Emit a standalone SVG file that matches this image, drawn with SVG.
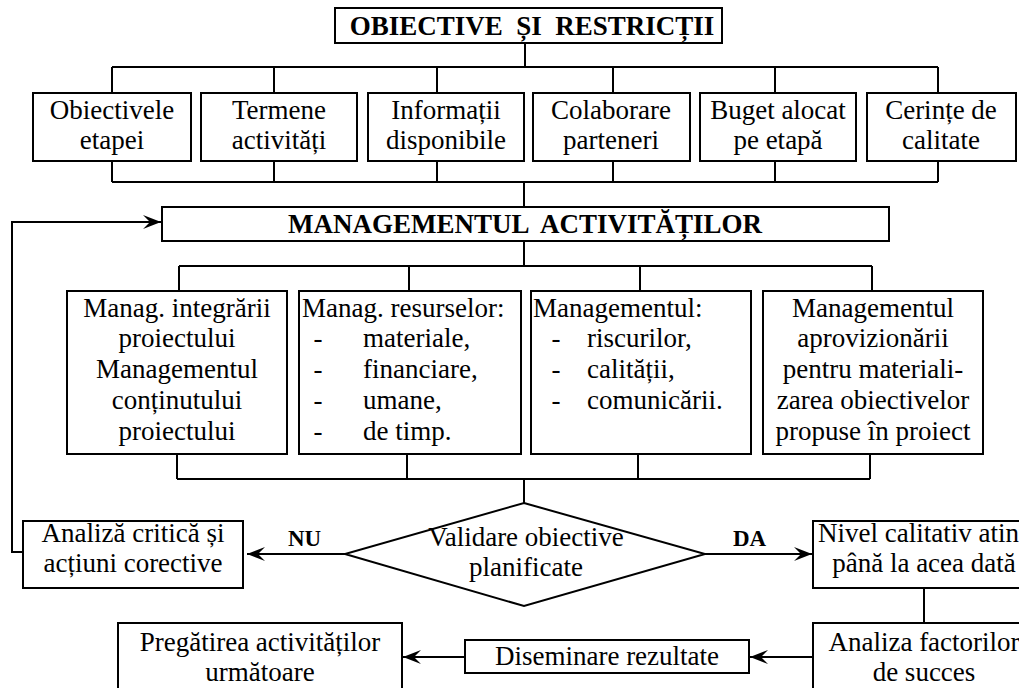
<svg xmlns="http://www.w3.org/2000/svg" width="1019" height="688" viewBox="0 0 1019 688">
  <style>
    .box { fill: #fff; stroke: #000; stroke-width: 2; }
    .wire { fill: none; stroke: #000; stroke-width: 2; }
    text { font-family: "Liberation Serif", "Times New Roman", serif; font-size: 27px; fill: #000; }
    .c { text-anchor: middle; }
    .b { font-weight: bold; }
    .lbl { font-size: 23px; font-weight: bold; }
  </style>
  <defs>
    <marker id="arrow" markerUnits="userSpaceOnUse" markerWidth="20" markerHeight="16" viewBox="-19 -8 20 16" refX="0" refY="0" orient="auto">
      <path d="M0,0 L-18,-7 L-11,0 L-18,7 Z" fill="#000"/>
    </marker>
  </defs>
  <rect width="1019" height="688" fill="#fff"/>

  <!-- connectors -->
  <g id="connectors" class="wire">
    <!-- header to constraint row -->
    <path d="M525,43 V67 M112,67 H938 M112,67 V93 M274,67 V93 M437,67 V93 M613,67 V93 M775,67 V93 M938,67 V93"/>
    <!-- constraint row to activity management -->
    <path d="M112,161 V182 M274,161 V182 M437,161 V182 M613,161 V182 M775,161 V182 M938,161 V182 M112,182 H938 M524,182 V207"/>
    <!-- activity management to the four areas -->
    <path d="M524,241 V266 M179,266 H872 M179,266 V291 M409,266 V291 M640,266 V291 M872,266 V291"/>
    <!-- four areas to validation -->
    <path d="M177,454 V479 M407,454 V479 M638,454 V479 M870,454 V479 M177,479 H870 M524,479 V503"/>
    <!-- decision branches -->
    <path d="M345,554 H247" marker-end="url(#arrow)"/>
    <path d="M705,554 H812" marker-end="url(#arrow)"/>
    <!-- feedback loop -->
    <path d="M23,552 H12 V222 H161" marker-end="url(#arrow)"/>
    <!-- success path -->
    <path d="M924,588 V623"/>
    <path d="M813,657 H750" marker-end="url(#arrow)"/>
    <path d="M465,657 H403" marker-end="url(#arrow)"/>
  </g>

  <g id="obiective-restrictii">
    <rect class="box" x="335" y="8" width="387" height="35"/>
    <text class="c b" x="532" y="35" xml:space="preserve">OBIECTIVE  ȘI  RESTRICȚII</text>
  </g>

  <g id="obiectivele-etapei">
    <rect class="box" x="33" y="93" width="158" height="68"/>
    <text class="c" x="112" y="119">Obiectivele</text>
    <text class="c" x="112" y="149">etapei</text>
  </g>
  <g id="termene-activitati">
    <rect class="box" x="201" y="93" width="156" height="68"/>
    <text class="c" x="279" y="119">Termene</text>
    <text class="c" x="279" y="149">activități</text>
  </g>
  <g id="informatii-disponibile">
    <rect class="box" x="368" y="93" width="156" height="68"/>
    <text class="c" x="446" y="119">Informații</text>
    <text class="c" x="446" y="149">disponibile</text>
  </g>
  <g id="colaborare-parteneri">
    <rect class="box" x="533" y="93" width="157" height="68"/>
    <text class="c" x="611" y="119">Colaborare</text>
    <text class="c" x="611" y="149">parteneri</text>
  </g>
  <g id="buget-alocat">
    <rect class="box" x="700" y="93" width="156" height="68"/>
    <text class="c" x="778" y="119">Buget alocat</text>
    <text class="c" x="778" y="149">pe etapă</text>
  </g>
  <g id="cerinte-calitate">
    <rect class="box" x="867" y="93" width="149" height="68"/>
    <text class="c" x="941" y="119">Cerințe de</text>
    <text class="c" x="941" y="149">calitate</text>
  </g>

  <g id="managementul-activitatilor">
    <rect class="box" x="162" y="207" width="727" height="34"/>
    <text class="c b" x="525" y="233" xml:space="preserve">MANAGEMENTUL  ACTIVITĂȚILOR</text>
  </g>

  <g id="integrare-continut">
    <rect class="box" x="67" y="291" width="220" height="163"/>
    <text class="c" x="177" y="317">Manag. integrării</text>
    <text class="c" x="177" y="347">proiectului</text>
    <text class="c" x="177" y="378">Managementul</text>
    <text class="c" x="177" y="409">conținutului</text>
    <text class="c" x="177" y="440">proiectului</text>
  </g>
  <g id="resurse">
    <rect class="box" x="299" y="291" width="222" height="163"/>
    <text x="302" y="317">Manag. resurselor:</text>
    <text class="c" x="318" y="347">-</text>
    <text class="c" x="318" y="378">-</text>
    <text class="c" x="318" y="409">-</text>
    <text class="c" x="318" y="440">-</text>
    <text x="363" y="347">materiale,</text>
    <text x="363" y="378">financiare,</text>
    <text x="363" y="409">umane,</text>
    <text x="363" y="440">de timp.</text>
  </g>
  <g id="riscuri-calitate-comunicare">
    <rect class="box" x="531" y="291" width="220" height="163"/>
    <text x="533" y="317">Managementul:</text>
    <text class="c" x="556" y="347">-</text>
    <text class="c" x="556" y="378">-</text>
    <text class="c" x="556" y="409">-</text>
    <text x="587" y="347">riscurilor,</text>
    <text x="587" y="378">calității,</text>
    <text x="587" y="409">comunicării.</text>
  </g>
  <g id="aprovizionare">
    <rect class="box" x="763" y="291" width="220" height="163"/>
    <text class="c" x="873" y="317">Managementul</text>
    <text class="c" x="873" y="347">aprovizionării</text>
    <text class="c" x="873" y="378">pentru materiali-</text>
    <text class="c" x="873" y="409">zarea obiectivelor</text>
    <text class="c" x="873" y="440">propuse în proiect</text>
  </g>

  <g id="validare-obiective">
    <polygon class="box" points="524,503 705,554 524,606 345,554"/>
    <text class="c" x="526" y="546">Validare obiective</text>
    <text class="c" x="526" y="576">planificate</text>
  </g>
  <g id="eticheta-nu">
    <text class="lbl" x="288" y="546">NU</text>
  </g>
  <g id="eticheta-da">
    <text class="lbl" x="733" y="546">DA</text>
  </g>

  <g id="analiza-critica">
    <rect class="box" x="23" y="521" width="220" height="67"/>
    <text class="c" x="133" y="542">Analiză critică și</text>
    <text class="c" x="133" y="572">acțiuni corective</text>
  </g>
  <g id="nivel-calitativ">
    <rect class="box" x="813" y="521" width="222" height="67"/>
    <text x="818" y="542">Nivel calitativ atin</text>
    <text class="c" x="924" y="572">până la acea dată</text>
  </g>
  <g id="analiza-factori-succes">
    <rect class="box" x="813" y="623" width="222" height="75"/>
    <text class="c" x="924" y="651">Analiza factorilor</text>
    <text class="c" x="924" y="681">de succes</text>
  </g>
  <g id="diseminare-rezultate">
    <rect class="box" x="465" y="640" width="284" height="33"/>
    <text class="c" x="607" y="665">Diseminare rezultate</text>
  </g>
  <g id="pregatire-activitati">
    <rect class="box" x="118" y="623" width="284" height="75"/>
    <text class="c" x="260" y="651">Pregătirea activităților</text>
    <text class="c" x="260" y="681">următoare</text>
  </g>
</svg>
